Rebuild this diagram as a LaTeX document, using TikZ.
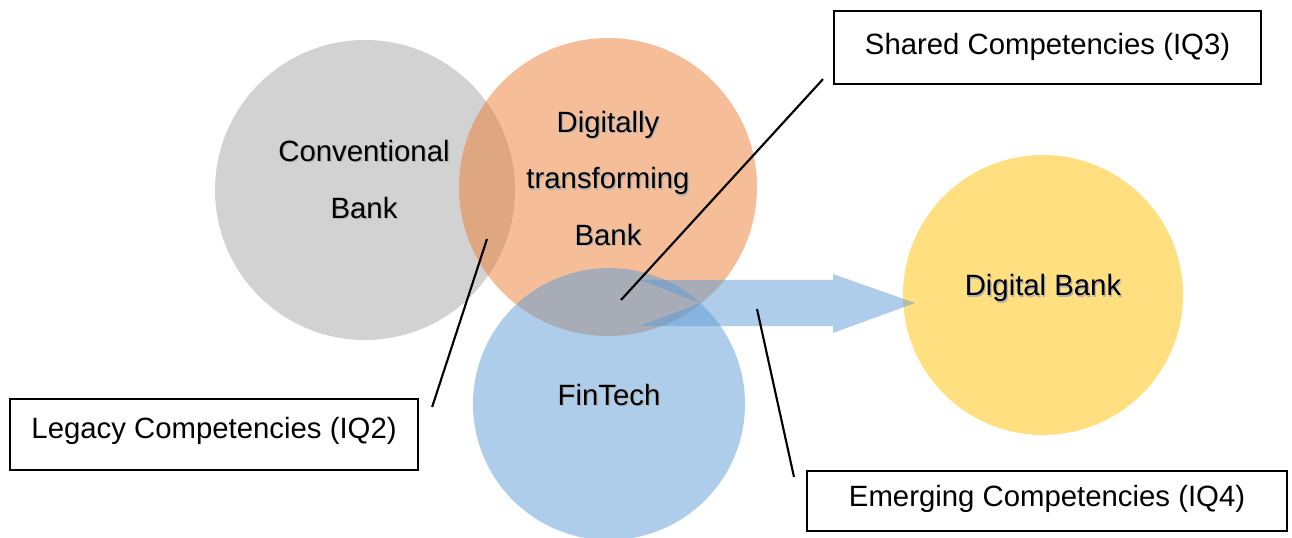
\documentclass[tikz,border=0pt]{standalone}
\usepackage{fontspec}
\setmainfont{Liberation Sans}
\usetikzlibrary{positioning}

\definecolor{convgray}{HTML}{A5A5A5}
\definecolor{digorange}{HTML}{ED7D31}
\definecolor{techblue}{HTML}{5B9BD5}
\definecolor{bankyellow}{HTML}{FFC000}

% Schrift mit leichtem Schatten
\newcommand{\shd}[1]{\makebox[0pt][l]{\kern0.9pt\raisebox{-0.9pt}{\color{black!30}#1}}#1}

\tikzset{
	blob/.style={circle, inner sep=0pt, fill opacity=0.5},
	lbl/.style={font=\fontsize{22}{42.5}\selectfont, align=center, inner sep=0pt},
	qbox/.style={draw, line width=1.6pt, inner sep=0pt, anchor=north west, font=\fontsize{22}{26}\selectfont},
	pointer/.style={line width=1.6pt}
}

\begin{document}
\begin{tikzpicture}[x=0.75pt,y=-0.75pt]
	%Rahmen
	\useasboundingbox (0,0) rectangle (1292,538);
	% Kreise zeichnen
	\node[blob, fill=convgray, minimum size=225pt] (conv) at (365,190) {};
	\node[blob, fill=digorange, minimum size=223.5pt] (digtrans) at (608,187) {};
	\node[blob, fill=techblue, minimum size=204pt] (fintech) at (609,404) {};
	\node[blob, fill=bankyellow, minimum size=210pt] (digbank) at (1043,295) {};
	%Pfeil
	\fill[techblue, fill opacity=0.5] (640,280) -- (833,280) -- (833,274) -- (915,303) -- (833,333) -- (833,326) -- (640,326) -- (700,303) -- cycle;
	% Beschriftung
	\node[lbl] (convtext) at (364,180) {\shd{Conventional}\\\shd{Bank}};
	\node[lbl] (digtext) at (608,179) {\shd{Digitally}\\\shd{transforming}\\\shd{Bank}};
	\node[lbl, anchor=base] (fintext) at (609,405) {\shd{FinTech}};
	\node[lbl, anchor=base] (banktext) at (1043,296) {\shd{Digital Bank}};

	% Kaesten
	\node[qbox, minimum width=320.25pt, text height=32.25pt, text depth=22.5pt] (shared) at (833,10) {Shared Competencies (IQ3)};
	\node[qbox, minimum width=306pt, text height=29.25pt, text depth=24pt] (legacy) at (9,398) {Legacy Competencies (IQ2)};
	\node[qbox, minimum width=360pt, text height=26.25pt, text depth=18.75pt] (emerging) at (806,470) {Emerging Competencies (IQ4)};

	%Linien
	\coordinate (sharedend) at (621,300);
	\coordinate (legacyend) at (487,239);
	\coordinate (emergingend) at (757,309);
	\draw[pointer] (shared.south west) ++(-10,-6) -- (sharedend);
	\draw[pointer] (legacy.north east) ++(13,9) -- (legacyend);
	\draw[pointer] (emerging.north west) ++(-12,7) -- (emergingend);
\end{tikzpicture}
\end{document}
